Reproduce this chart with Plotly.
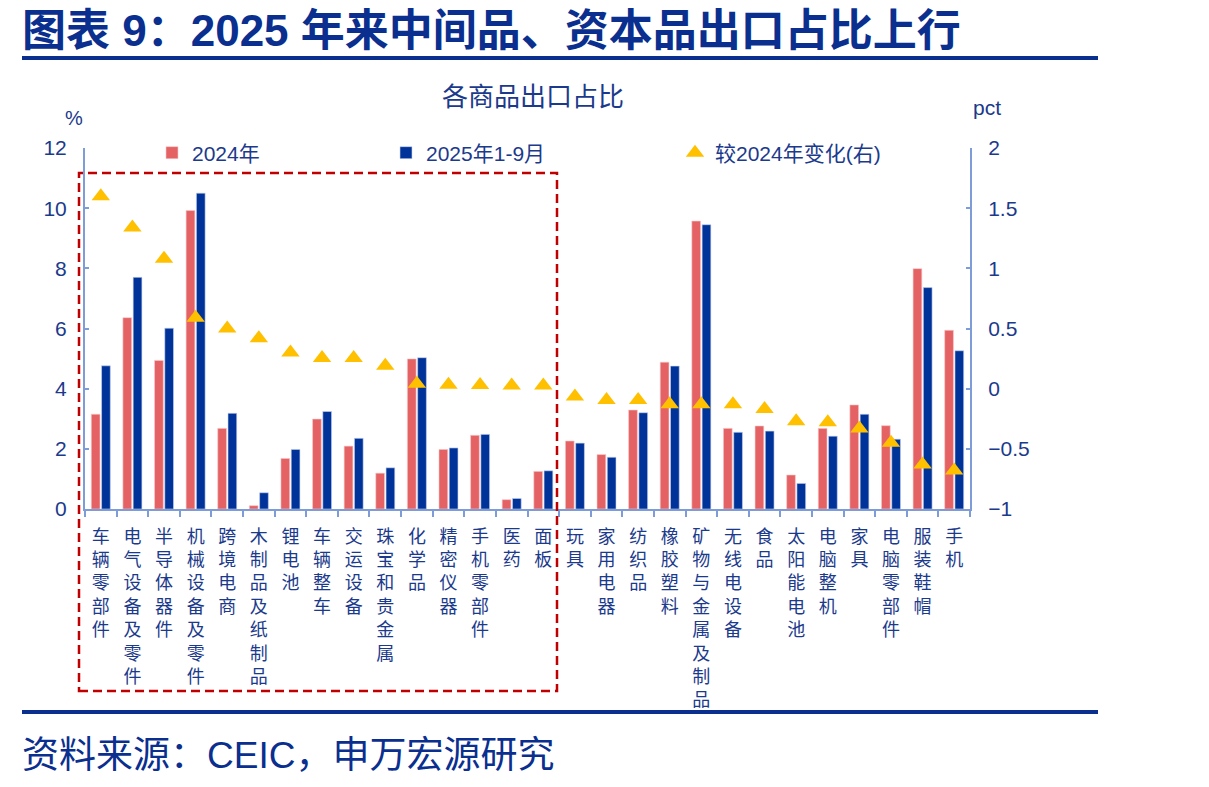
import plotly.graph_objects as go

W, H = 1209, 787

categories = ["车辆零部件", "电气设备及零件", "半导体器件", "机械设备及零件", "跨境电商",
              "木制品及纸制品", "锂电池", "车辆整车", "交运设备", "珠宝和贵金属",
              "化学品", "精密仪器", "手机零部件", "医药", "面板",
              "玩具", "家用电器", "纺织品", "橡胶塑料", "矿物与金属及制品",
              "无线电设备", "食品", "太阳能电池", "电脑整机", "家具",
              "电脑零部件", "服装鞋帽", "手机"]

share_2024 = [3.15, 6.36, 4.94, 9.92, 2.68, 0.11, 1.68, 2.99, 2.09, 1.19,
              4.99, 1.98, 2.45, 0.31, 1.25, 2.26, 1.81, 3.29, 4.88, 9.57,
              2.68, 2.76, 1.13, 2.68, 3.46, 2.77, 7.99, 5.94]

share_2025 = [4.76, 7.70, 6.01, 10.50, 3.18, 0.54, 1.98, 3.24, 2.35, 1.37,
              5.03, 2.03, 2.48, 0.35, 1.27, 2.19, 1.72, 3.20, 4.75, 9.45,
              2.55, 2.59, 0.85, 2.42, 3.15, 2.32, 7.36, 5.26]

change_pct = [1.60, 1.34, 1.08, 0.59, 0.50, 0.42, 0.30, 0.255, 0.255, 0.19,
              0.04, 0.033, 0.03, 0.027, 0.027, -0.066, -0.094, -0.094, -0.13, -0.13,
              -0.13, -0.17, -0.27, -0.28, -0.33, -0.45, -0.63, -0.68]

left_ticks = [0, 2, 4, 6, 8, 10, 12]
right_ticks = [-1, -0.5, 0, 0.5, 1, 1.5, 2]

RED = "#E46264"
BLUE = "#003399"
GOLD = "#FFC000"
DARK = "#0A2F8F"
TXT = "#1B3A8C"
AXIS = "#7E9CD8"
FONT = "Liberation Sans, Noto Sans CJK SC, sans-serif"


def px(x):
    return x / W


def py(y):
    return 1 - y / H


vertical_labels = ["<br>".join(list(c)) for c in categories]

fig = go.Figure()
fig.add_trace(go.Bar(x=categories, y=share_2024, name="2024年", marker_color=RED,
                     marker_line=dict(width=0.6, color="#F6C9C9"), legend="legend"))
fig.add_trace(go.Bar(x=categories, y=share_2025, name="2025年1-9月", marker_color=BLUE,
                     marker_line=dict(width=0.6, color="#C9D3EE"), legend="legend2"))
fig.add_trace(go.Scatter(x=categories, y=change_pct, name="较2024年变化(右)", mode="markers",
                         marker=dict(symbol="triangle-up", size=16, color=GOLD),
                         yaxis="y2", legend="legend3"))

leg_common = dict(orientation="h", xanchor="left", yanchor="middle",
                  bgcolor="rgba(0,0,0,0)", font=dict(family=FONT, size=21, color=TXT),
                  itemwidth=30, tracegroupgap=0)

fig.update_layout(
    width=W, height=H,
    margin=dict(l=0, r=0, t=0, b=0),
    plot_bgcolor="white", paper_bgcolor="white",
    barmode="group", bargap=0.35, bargroupgap=0.15,
    font=dict(family=FONT, color=TXT),
    xaxis=dict(domain=[px(85), px(970)], type="category", range=[-0.5, len(categories) - 0.5],
               tickmode="array", tickvals=categories, ticktext=vertical_labels,
               tickfont=dict(family=FONT, size=18, color=TXT),
               showline=True, linecolor=AXIS, linewidth=2,
               ticks="outside", tickson="boundaries", ticklen=6, tickcolor=AXIS, tickwidth=1.5,
               showgrid=False, zeroline=False, automargin=False, tickangle=0,
               ticklabelstandoff=10),
    yaxis=dict(domain=[py(509), py(148)], range=[0, 12], tickvals=left_ticks,
               tickfont=dict(family=FONT, size=21, color=TXT),
               showline=True, linecolor=AXIS, linewidth=2,
               ticks="inside", ticklen=4, tickcolor=AXIS, tickwidth=1.5,
               showgrid=False, zeroline=False, automargin=False, ticklabelstandoff=12),
    yaxis2=dict(domain=[py(509), py(148)], range=[-1, 2], tickvals=right_ticks,
                overlaying="y", side="right", anchor="x",
                tickfont=dict(family=FONT, size=21, color=TXT),
                showline=True, linecolor=AXIS, linewidth=2,
                ticks="inside", ticklen=4, tickcolor=AXIS, tickwidth=1.5,
                showgrid=False, zeroline=False, automargin=False, ticklabelstandoff=12),
    legend=dict(x=px(152), y=py(153), **leg_common),
    legend2=dict(x=px(386), y=py(153), **leg_common),
    legend3=dict(x=px(675), y=py(153), **leg_common),
    showlegend=True,
)

shapes = [
    dict(type="line", xref="paper", yref="paper", x0=px(22), x1=px(1098), y0=py(58), y1=py(58),
         line=dict(color=DARK, width=4)),
    dict(type="line", xref="paper", yref="paper", x0=px(22), x1=px(1098), y0=py(712), y1=py(712),
         line=dict(color=DARK, width=4)),
    dict(type="rect", xref="paper", yref="paper", x0=px(79), x1=px(557), y0=py(691), y1=py(173),
         line=dict(color="#C00000", width=2.5, dash="9px,5px")),
]
fig.update_layout(shapes=shapes)

annotations = [
    dict(text="<b>图表 9：2025 年来中间品、资本品出口占比上行</b>", x=px(20), y=py(31),
         xanchor="left", yanchor="middle", showarrow=False,
         font=dict(family=FONT, size=44, color=DARK)),
    dict(text="各商品出口占比", x=px(533), y=py(97), xanchor="center", yanchor="middle",
         showarrow=False, font=dict(family=FONT, size=26, color=TXT)),
    dict(text="%", x=px(74), y=py(118), xanchor="center", yanchor="middle",
         showarrow=False, font=dict(family=FONT, size=20, color=TXT)),
    dict(text="pct", x=px(987), y=py(108), xanchor="center", yanchor="middle",
         showarrow=False, font=dict(family=FONT, size=21, color=TXT)),
    dict(text="资料来源：CEIC，申万宏源研究", x=px(20), y=py(755), xanchor="left", yanchor="middle",
         showarrow=False, font=dict(family=FONT, size=37, color=DARK)),
]
for a in annotations:
    a["xref"] = "paper"
    a["yref"] = "paper"
fig.update_layout(annotations=annotations)

fig.write_html("out.html")
